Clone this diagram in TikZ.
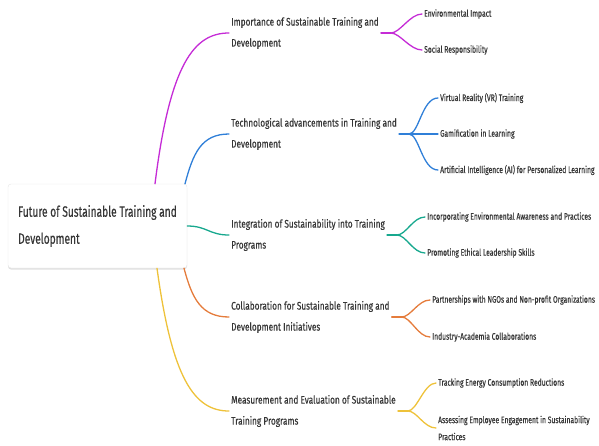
\documentclass[tikz,border=0pt]{standalone}
\usepackage{fontspec}
\setmainfont{Fira Sans}[FakeStretch=0.74]
\newfontfamily\rootfont{Fira Sans}[FakeStretch=0.68, FakeBold=0.4]
\newfontfamily\lonefont{Fira Sans}[FakeStretch=0.75, FakeBold=0.4]
\newfontfamily\ltwofont{Fira Sans}[FakeStretch=0.71, FakeBold=0.4]
\usetikzlibrary{shadows}
\definecolor{cMag}{HTML}{C52BD6}
\definecolor{cBlue}{HTML}{2F7FD8}
\definecolor{cTeal}{HTML}{17A88E}
\definecolor{cOrg}{HTML}{E57C3C}
\definecolor{cYel}{HTML}{EEC23A}
\definecolor{txt}{HTML}{363636}
\begin{document}
\begin{tikzpicture}[x=1pt,y=-1pt,
  rootbox/.style={draw=black!10, fill=white, rounded corners=3pt, minimum width=179pt,
    minimum height=84pt, inner xsep=8pt, align=left, text=txt,
    font=\rootfont\fontsize{15}{27}\selectfont,
    drop shadow={shadow xshift=0pt, shadow yshift=-1.5pt, opacity=0.12, fill=black}},
  lone/.style={anchor=west, inner xsep=2pt, inner ysep=0pt, align=left, text=txt,
    font=\lonefont\fontsize{11}{21}\selectfont},
  ltwo/.style={anchor=west, inner xsep=2pt, inner ysep=0pt, align=left, text=txt,
    font=\ltwofont\fontsize{9.5}{17}\selectfont},
  branch/.style={line width=1.3pt, line cap=round},
]
\useasboundingbox (0,0) rectangle (599,445);
% root
\node[rootbox] (root) at (97.5,226) {Future of Sustainable Training and\\Development};
% level 1
\node[lone] (m) at (229,33) {Importance of Sustainable Training and\\Development};
\node[lone] (b) at (229,134) {Technological advancements in Training and\\Development};
\node[lone] (t) at (229,235) {Integration of Sustainability into Training\\Programs};
\node[lone] (o) at (229,317) {Collaboration for Sustainable Training and\\Development Initiatives};
\node[lone] (y) at (229,411) {Measurement and Evaluation of Sustainable\\Training Programs};
% level 2
\node[ltwo] (m1) at (422,14) {Environmental Impact};
\node[ltwo] (m2) at (422,50) {Social Responsibility};
\node[ltwo] (b1) at (438,98) {Virtual Reality (VR) Training};
\node[ltwo] (b2) at (438,134) {Gamification in Learning};
\node[ltwo] (b3) at (438,170) {Artificial Intelligence (AI) for Personalized Learning};
\node[ltwo] (t1) at (425,217) {Incorporating Environmental Awareness and Practices};
\node[ltwo] (t2) at (425,253) {Promoting Ethical Leadership Skills};
\node[ltwo] (o1) at (430,300) {Partnerships with NGOs and Non-profit Organizations};
\node[ltwo] (o2) at (430,337) {Industry-Academia Collaborations};
\node[ltwo] (y1) at (436,383) {Tracking Energy Consumption Reductions};
\node[ltwo] (y2) at (436,428) {Assessing Employee Engagement in Sustainability\\Practices};
% root branches
\draw[branch,cMag] ([xshift=57.5pt]root.north) .. controls +(15,-120) and +(-35,0) .. (m.west);
\draw[branch,cBlue] ([xshift=87.5pt]root.north) .. controls +(8,-30) and +(-28,0) .. (b.west);
\draw[branch,cTeal] (root.east) .. controls +(20,0) and +(-20,0) .. (t.west);
\draw[branch,cOrg] ([xshift=86.5pt]root.south) .. controls +(8,30) and +(-28,0) .. (o.west);
\draw[branch,cYel] ([xshift=59.5pt]root.south) .. controls +(15,110) and +(-35,0) .. (y.west);
% forks
\draw[branch,cMag] (m.east) -- ++(10,0) coordinate (mf);
\draw[branch,cMag] (mf) .. controls +(9,0) and +(-12,0) .. (m1.west);
\draw[branch,cMag] (mf) .. controls +(9,0) and +(-12,0) .. (m2.west);
\draw[branch,cBlue] (b.east) -- ++(10,0) coordinate (bf);
\draw[branch,cBlue] (bf) .. controls +(10,0) and +(-16,0) .. (b1.west);
\draw[branch,cBlue] (bf) -- (b2.west);
\draw[branch,cBlue] (bf) .. controls +(10,0) and +(-16,0) .. (b3.west);
\draw[branch,cTeal] (t.east) -- ++(10,0) coordinate (tf);
\draw[branch,cTeal] (tf) .. controls +(9,0) and +(-12,0) .. (t1.west);
\draw[branch,cTeal] (tf) .. controls +(9,0) and +(-12,0) .. (t2.west);
\draw[branch,cOrg] (o.east) -- ++(10,0) coordinate (of);
\draw[branch,cOrg] (of) .. controls +(9,0) and +(-12,0) .. (o1.west);
\draw[branch,cOrg] (of) .. controls +(9,0) and +(-12,0) .. (o2.west);
\draw[branch,cYel] (y.east) -- ++(10,0) coordinate (yf);
\draw[branch,cYel] (yf) .. controls +(9,0) and +(-12,0) .. (y1.west);
\draw[branch,cYel] (yf) .. controls +(9,0) and +(-12,0) .. (y2.west);
\end{tikzpicture}
\end{document}
